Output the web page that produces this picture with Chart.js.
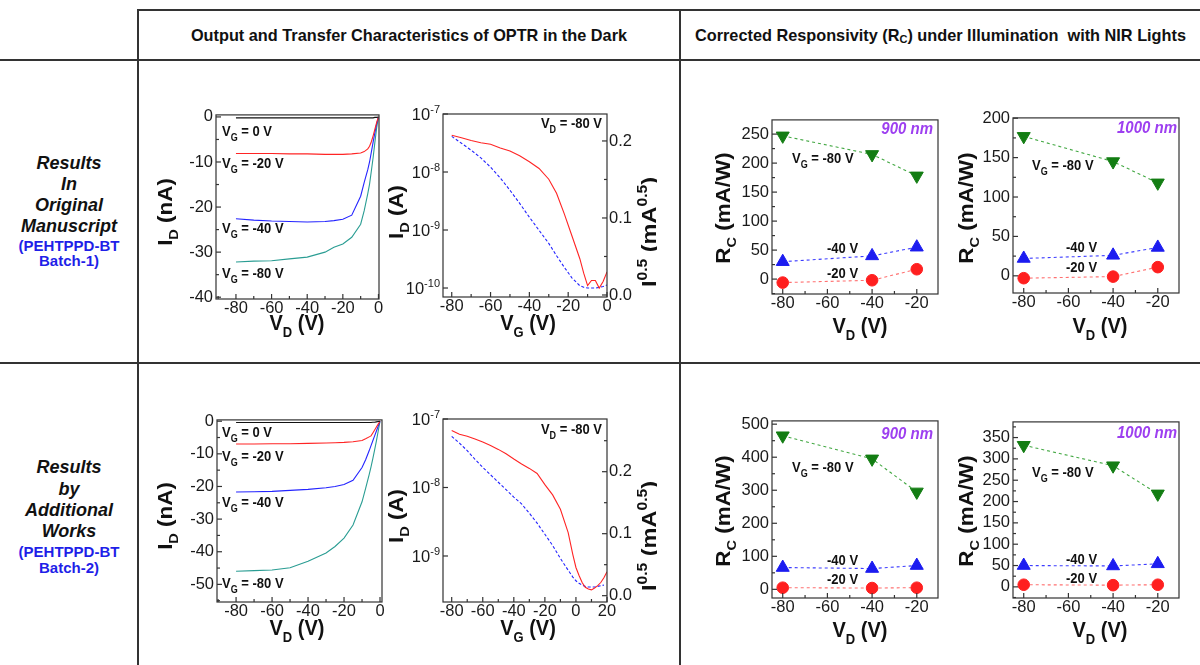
<!DOCTYPE html>
<html>
<head>
<meta charset="utf-8">
<title>OPTR characteristics</title>
<script src="https://cdn.jsdelivr.net/npm/chart.js@4.4.1/dist/chart.umd.min.js"></script>
<style>
  html, body { margin: 0; padding: 0; background: #fff; }
  body { position: relative; width: 1200px; height: 665px; overflow: hidden;
         font-family: "Liberation Sans", Arial, Helvetica, sans-serif; color: #111; }
  .rule { position: absolute; background: #333; }
  .head { position: absolute; top: 10px; height: 50px; display: flex; align-items: center;
          justify-content: center; font-weight: bold; font-size: 16.3px; white-space: nowrap; }
  .head .s { font-size: 11px; position: relative; top: 4px; }
  .side { position: absolute; left: 0; width: 138px; text-align: center; line-height: 20px;
          font-weight: bold; white-space: nowrap; }
  .side.k { font-style: italic; font-size: 18px; }
  .side.b { font-size: 15px; color: #1f1fe8; line-height: 16px; }
  canvas { position: absolute; }
</style>
</head>
<body>
<div class="rule" style="left:138px;top:9px;width:1062px;height:2px"></div>
<div class="rule" style="left:0;top:59px;width:1200px;height:2px"></div>
<div class="rule" style="left:0;top:362px;width:1200px;height:2px"></div>
<div class="rule" style="left:137px;top:9px;width:2px;height:656px"></div>
<div class="rule" style="left:679px;top:9px;width:2px;height:656px"></div>

<div class="head" style="left:139px;width:540px">Output and Transfer Characteristics of OPTR in the Dark</div>
<div class="head" style="left:681px;width:519px">Corrected Responsivity (R<span class="s">C</span>) under Illumination&nbsp; with NIR Lights</div>

<div class="side k" style="top:153px">Results</div>
<div class="side k" style="top:174px">In</div>
<div class="side k" style="top:195px">Original</div>
<div class="side k" style="top:216px">Manuscript</div>
<div class="side b" style="top:238px">(PEHTPPD-BT</div>
<div class="side b" style="top:253px">Batch-1)</div>

<div class="side k" style="top:457px">Results</div>
<div class="side k" style="top:479px">by</div>
<div class="side k" style="top:500px">Additional</div>
<div class="side k" style="top:521px">Works</div>
<div class="side b" style="top:544px">(PEHTPPD-BT</div>
<div class="side b" style="top:560px">Batch-2)</div>

<script>
// ---- data ----
// output characteristics in the dark (I_D in nA vs V_D)
const vdSweep = [-80, -70, -60, -50, -40, -30, -25, -20, -15, -10, -8, -6, -5, -4, -3, -2, -1, 0];
const out1Vg0  = [-0.2, -0.2, -0.2, -0.2, -0.2, -0.2, -0.2, -0.2, -0.2, -0.2, -0.2, -0.2, -0.2, -0.2, -0.2, -0.1, -0.1, 0];
const out1Vg20 = [-8.1, -8.1, -8.1, -8.2, -8.2, -8.3, -8.3, -8.3, -8.2, -8.0, -7.7, -7.1, -6.5, -5.5, -4.2, -2.7, -1.2, 0];
const out1Vg40 = [-22.6, -22.9, -23.1, -23.2, -23.3, -23.2, -23.0, -22.7, -21.8, -17.6, -14.5, -11.7, -10.0, -7.8, -5.6, -3.5, -1.5, 0];
const out1Vg80 = [-32.2, -32.0, -31.9, -31.5, -31.1, -30.0, -28.9, -28.2, -26.7, -23.8, -20.8, -17.0, -14.9, -12.0, -9.0, -5.6, -2.4, 0];
const out2Vg0  = [-0.4, -0.4, -0.4, -0.4, -0.4, -0.4, -0.4, -0.4, -0.4, -0.4, -0.4, -0.4, -0.4, -0.3, -0.3, -0.2, -0.1, 0];
const out2Vg20 = [-7.0, -7.0, -6.9, -6.9, -6.8, -6.7, -6.6, -6.5, -6.3, -5.9, -5.4, -4.8, -4.5, -3.6, -2.7, -1.8, -0.9, 0];
const out2Vg40 = [-21.7, -21.6, -21.5, -21.2, -20.9, -20.4, -20.0, -19.4, -18.1, -14.2, -11.8, -9.0, -7.5, -6.0, -4.5, -3.0, -1.5, 0];
const out2Vg80 = [-46.0, -45.8, -45.6, -44.9, -42.9, -40.4, -38.4, -35.8, -31.8, -24.7, -20.6, -16.3, -14.0, -11.5, -8.8, -6.0, -3.0, 0];

// transfer characteristics at V_D = -80 V (I_D in A, sqrt in mA^0.5)
const vgSweep1 = [-80, -75, -70, -65, -60, -55, -50, -45, -40, -35, -30, -26, -22, -18, -14, -12, -10, -8, -6, -4, -2, 0];
const tr1Id   = [4.3e-8, 3.9e-8, 3.5e-8, 3.2e-8, 3.0e-8, 2.6e-8, 2.3e-8, 1.9e-8, 1.5e-8, 1.15e-8, 7.5e-9, 4.3e-9, 1.9e-9, 7.8e-10, 3.2e-10, 1.8e-10, 1.1e-10, 1.35e-10, 1.35e-10, 1.0e-10, 1.3e-10, 1.9e-10];
const tr1Sqrt = [0.206, 0.197, 0.188, 0.178, 0.166, 0.152, 0.136, 0.119, 0.101, 0.084, 0.067, 0.051, 0.036, 0.022, 0.012, 0.010, 0.009, 0.009, 0.009, 0.010, 0.011, 0.013];
const vgSweep2 = [-80, -75, -70, -65, -60, -55, -50, -45, -40, -35, -30, -25, -20, -15, -10, -5, -2, 0, 2, 4, 6, 8, 10, 12, 14, 16, 18, 20];
const tr2Id   = [6.8e-8, 6.0e-8, 5.6e-8, 5.1e-8, 4.6e-8, 4.1e-8, 3.6e-8, 3.1e-8, 2.6e-8, 2.2e-8, 1.9e-8, 1.6e-8, 1.1e-8, 7.8e-9, 4.8e-9, 2.2e-9, 1.05e-9, 6.8e-10, 5.2e-10, 4.1e-10, 3.5e-10, 3.3e-10, 3.2e-10, 3.4e-10, 3.7e-10, 4.1e-10, 4.8e-10, 5.9e-10];
const tr2Sqrt = [0.257, 0.246, 0.234, 0.220, 0.207, 0.195, 0.183, 0.171, 0.159, 0.148, 0.133, 0.117, 0.099, 0.081, 0.060, 0.041, 0.030, 0.024, 0.020, 0.017, 0.015, 0.014, 0.014, 0.014, 0.015, 0.016, 0.017, null];

// corrected responsivity (mA/W)
const vdBias = [-80, -40, -20];
const r900aVg80 = [247, 215, 178];
const r900aVg40 = [30, 40, 55];
const r900aVg20 = [-6, -2, 17];
const r1000aVg80 = [177, 145, 118];
const r1000aVg40 = [22, 26, 36];
const r1000aVg20 = [-3, -1, 11];
const r900bVg80 = [465, 395, 295];
const r900bVg40 = [66, 63, 72];
const r900bVg20 = [5, 4, 5];
const r1000bVg80 = [332, 284, 218];
const r1000bVg40 = [50, 49, 54];
const r1000bVg20 = [5, 4, 5];

// tick values
const vdTicks = [-80, -60, -40, -20, 0];
const out1Ticks = [-40, -30, -20, -10, 0];
const out2Ticks = [-50, -40, -30, -20, -10, 0];
const vgTicks1 = [-80, -60, -40, -20, 0];
const vgTicks2 = [-80, -60, -40, -20, 0, 20];
const logTicks1 = [1e-10, 1e-9, 1e-8, 1e-7];
const logTicks2 = [1e-9, 1e-8, 1e-7];
const sqrtTicks = [0, 0.1, 0.2];
const biasTicks = [-80, -60, -40, -20];
const r900aTicks = [0, 50, 100, 150, 200, 250];
const r1000aTicks = [0, 50, 100, 150, 200];
const r900bTicks = [0, 100, 200, 300, 400, 500];
const r1000bTicks = [0, 50, 100, 150, 200, 250, 300, 350];

// ---- drawing helpers ----
const FONT = '"Liberation Sans", Arial, Helvetica, sans-serif';
const STRETCH = 1.12;   // the source figure is a little taller than wide
Chart.defaults.font.family = FONT;
Chart.defaults.font.size = 16.5;
Chart.defaults.color = '#1a1a1a';
Chart.defaults.animation = false;
Chart.defaults.plugins.legend.display = false;
Chart.defaults.plugins.tooltip.enabled = false;

const PAD_L = 62, PAD_T = 12, PAD_B = 56, PAD_R = 12, PAD_R2 = 50;

const pts = (xs, ys) => xs.map((x, i) => ({ x, y: ys[i] }));
const fixTicks = vals => s => { s.ticks = vals.map(v => ({ value: v })); };
const sub = (a, b, c) => [[a], [b, 'sub'], [c]];

function drawRich(ctx, parts, x, y, o) {
  const size = o.size, small = Math.round(size * 0.66);
  const fontFor = k => `${o.italic ? 'italic ' : ''}bold ${k ? small : size}px ${FONT}`;
  const widths = parts.map(p => { ctx.font = fontFor(p[1]); return ctx.measureText(p[0]).width; });
  const total = widths.reduce((a, b) => a + b, 0);
  ctx.save();
  ctx.translate(x, y);
  ctx.scale(1, STRETCH);
  if (o.rotate) ctx.rotate(-Math.PI / 2);
  let cx = o.align === 'left' ? 0 : o.align === 'right' ? -total : -total / 2;
  const base = size * 0.36;
  ctx.fillStyle = o.color || '#111';
  ctx.textAlign = 'left';
  ctx.textBaseline = 'alphabetic';
  parts.forEach((p, i) => {
    ctx.font = fontFor(p[1]);
    const dy = p[1] === 'sub' ? size * 0.3 : p[1] === 'sup' ? -size * 0.42 : 0;
    ctx.fillText(p[0], cx, base + dy);
    cx += widths[i];
  });
  ctx.restore();
}

function drawLogLabels(ctx, s, a) {
  ctx.fillStyle = '#1a1a1a';
  ctx.textAlign = 'left';
  ctx.textBaseline = 'alphabetic';
  s.ticks.forEach(t => {
    const p = s.getPixelForValue(t.value);
    const e = String(Math.round(Math.log10(t.value)));
    ctx.font = `11px ${FONT}`;
    const we = ctx.measureText(e).width;
    ctx.font = `16.5px ${FONT}`;
    const wb = ctx.measureText('10').width;
    const xr = a.left - 3;
    ctx.fillText('10', xr - we - wb, p + 6);
    ctx.font = `11px ${FONT}`;
    ctx.fillText(e, xr - we, p - 1);
  });
}

// frame, inward ticks, log labels and the rich texts of one panel
function decor(offX, offY, texts) {
  return {
    id: 'decor',
    afterDatasetsDraw(chart) {
      const { ctx, chartArea: a } = chart;
      ctx.save();
      ctx.strokeStyle = '#333';
      ctx.lineWidth = 1.2;
      ctx.strokeRect(a.left, a.top, a.right - a.left, a.bottom - a.top);
      ['x', 'y', 'y1'].forEach(id => {
        const s = chart.scales[id];
        if (!s) return;
        const major = s.ticks.map(t => t.value).sort((p, q) => p - q);
        const minor = [];
        if (s.type === 'linear' && major.length > 1) {
          const step = major[1] - major[0];
          for (let v = major[0] - step / 2; v <= s.max; v += step) if (v >= s.min) minor.push(v);
        }
        const mark = (v, len) => {
          const p = s.getPixelForValue(v);
          ctx.beginPath();
          if (id === 'x') {
            if (p < a.left - 0.5 || p > a.right + 0.5) return;
            ctx.moveTo(p, a.bottom); ctx.lineTo(p, a.bottom - len);
          } else {
            if (p < a.top - 0.5 || p > a.bottom + 0.5) return;
            const x0 = id === 'y1' ? a.right : a.left;
            ctx.moveTo(x0, p); ctx.lineTo(id === 'y1' ? x0 - len : x0 + len, p);
          }
          ctx.stroke();
        };
        major.forEach(v => mark(v, 5));
        minor.forEach(v => mark(v, 3));
        if (s.type === 'logarithmic') drawLogLabels(ctx, s, a);
      });
      ctx.restore();
    },
    afterDraw(chart) {
      texts.forEach(t => drawRich(chart.ctx, t.parts, t.x - offX, t.y - offY, t));
    },
  };
}

function linAxis(pos, min, max, ticks, fmt = v => String(v)) {
  return {
    type: 'linear', position: pos, min, max,
    afterBuildTicks: fixTicks(ticks),
    grid: { display: false, drawTicks: false },
    border: { display: false },
    ticks: { autoSkip: false, maxRotation: 0, padding: pos === 'bottom' ? 0 : pos === 'right' ? 2 : 3, callback: fmt },
  };
}

function logAxis(min, max, ticks) {
  return {
    type: 'logarithmic', position: 'left', min, max,
    afterBuildTicks: fixTicks(ticks),
    grid: { display: false, drawTicks: false },
    border: { display: false },
    ticks: { display: false },
  };
}

const curve = (xs, ys, color, axis = 'y', dash = []) => ({
  data: pts(xs, ys), yAxisID: axis, borderColor: color, borderWidth: 1.1,
  borderDash: dash, pointRadius: 0, fill: false, tension: 0,
});

const marks = (ys, line, fill, style, rot, r) => ({
  data: pts(vdBias, ys), borderColor: line, borderWidth: 1.1, borderDash: [3, 3],
  pointStyle: style, pointRotation: rot, pointRadius: r, pointBackgroundColor: fill,
  pointBorderColor: fill, pointBorderWidth: 1, clip: false, tension: 0,
});

function panel(box, datasets, scales, texts) {
  const right = !!scales.y1;
  const cv = document.createElement('canvas');
  const left = box.l - PAD_L, top = box.t - PAD_T;
  const w = box.r - box.l + PAD_L + (right ? PAD_R2 : PAD_R);
  const h = box.b - box.t + PAD_T + PAD_B;
  cv.width = w; cv.height = h;
  cv.style.left = left + 'px'; cv.style.top = top + 'px';
  cv.style.width = w + 'px'; cv.style.height = h + 'px';
  document.body.appendChild(cv);
  scales.x.afterFit = s => { s.height = PAD_B; };
  scales.y.afterFit = s => { s.width = PAD_L; };
  if (right) scales.y1.afterFit = s => { s.width = PAD_R2; };
  return new Chart(cv, {
    type: 'line',
    data: { datasets },
    options: {
      responsive: false,
      devicePixelRatio: 1,
      layout: { padding: { left: 0, top: PAD_T, right: right ? 0 : PAD_R, bottom: 0 } },
      scales,
    },
    plugins: [decor(left, top, texts)],
  });
}

const BLACK = '#111', RED = '#ff2424', BLUE = '#2424ff', TEAL = '#2a9d93';
const PURPLE = '#9d3ff0';
const note = (parts, x, y, align = 'left') => ({ parts, x, y, align, size: 13 });
const vgNote = (v, x, y) => note(sub('V', 'G', ` = ${v} V`), x, y);
const sqrtTitle = [['I'], ['0.5', 'sup'], [' (mA'], ['0.5', 'sup'], [')']];

// ---- output characteristics ----
panel({ l: 216, t: 114, r: 379, b: 299 },
  [curve(vdSweep, out1Vg0, BLACK), curve(vdSweep, out1Vg20, RED), curve(vdSweep, out1Vg40, BLUE), curve(vdSweep, out1Vg80, TEAL)],
  { x: linAxis('bottom', -91.2, 0.3, vdTicks), y: linAxis('left', -40.4, 0.45, out1Ticks) },
  [
    { parts: sub('I', 'D', ' (nA)'), x: 165, y: 212, size: 20, rotate: true },
    { parts: sub('V', 'D', ' (V)'), x: 297, y: 322, size: 20 },
    vgNote('0', 222, 131), vgNote('-20', 222, 163), vgNote('-40', 222, 228), vgNote('-80', 222, 273),
  ]);

panel({ l: 217, t: 419, r: 382, b: 602 },
  [curve(vdSweep, out2Vg0, BLACK), curve(vdSweep, out2Vg20, RED), curve(vdSweep, out2Vg40, BLUE), curve(vdSweep, out2Vg80, TEAL)],
  { x: linAxis('bottom', -90.6, 1.1, vdTicks), y: linAxis('left', -55.4, 0.4, out2Ticks) },
  [
    { parts: sub('I', 'D', ' (nA)'), x: 165, y: 516, size: 20, rotate: true },
    { parts: sub('V', 'D', ' (V)'), x: 297, y: 627, size: 20 },
    vgNote('0', 222, 432), vgNote('-20', 222, 456), vgNote('-40', 222, 502), vgNote('-80', 222, 583),
  ]);

// ---- transfer characteristics ----
panel({ l: 443, t: 114, r: 607, b: 297 },
  [curve(vgSweep1, tr1Id, RED), curve(vgSweep1, tr1Sqrt, BLUE, 'y1', [3, 2])],
  {
    x: linAxis('bottom', -84.5, 0, vgTicks1),
    y: logAxis(7.0e-11, 1e-7, logTicks1),
    y1: linAxis('right', -0.0026, 0.235, sqrtTicks, v => v.toFixed(1)),
  },
  [
    { parts: sub('I', 'D', ' (A)'), x: 396, y: 212, size: 20, rotate: true },
    { parts: sqrtTitle, x: 648, y: 232, size: 21, rotate: true },
    { parts: sub('V', 'G', ' (V)'), x: 528, y: 322, size: 20 },
    note(sub('V', 'D', ' = -80 V'), 602, 123, 'right'),
  ]);

panel({ l: 443, t: 419, r: 607, b: 602 },
  [curve(vgSweep2, tr2Id, RED), curve(vgSweep2, tr2Sqrt, BLUE, 'y1', [3, 2])],
  {
    x: linAxis('bottom', -85.6, 20, vgTicks2),
    y: logAxis(2.13e-10, 1e-7, logTicks2),
    y1: linAxis('right', -0.0102, 0.285, sqrtTicks, v => v.toFixed(1)),
  },
  [
    { parts: sub('I', 'D', ' (A)'), x: 396, y: 516, size: 20, rotate: true },
    { parts: sqrtTitle, x: 648, y: 536, size: 21, rotate: true },
    { parts: sub('V', 'G', ' (V)'), x: 528, y: 627, size: 20 },
    note(sub('V', 'D', ' = -80 V'), 602, 429, 'right'),
  ]);

// ---- corrected responsivity ----
function respPanel(box, yMin, yMax, ticks, v80, v40, v20, t) {
  return panel(box,
    [
      marks(v20, '#ff7070', '#ff1f1f', 'circle', 0, 5.8),
      marks(v40, '#3d3dff', '#1c1cf0', 'triangle', 0, 7.5),
      marks(v80, '#43a843', '#137d13', 'triangle', 180, 7.5),
    ],
    { x: linAxis('bottom', -84.8, -10.5, biasTicks), y: linAxis('left', yMin, yMax, ticks) },
    [
      { parts: sub('R', 'C', ' (mA/W)'), x: t.rx, y: t.ry, size: 20, rotate: true },
      { parts: sub('V', 'D', ' (V)'), x: t.vx, y: t.vy, size: 20 },
      { parts: [[t.nm]], x: t.nx, y: t.ny, align: 'right', size: 15, italic: true, color: PURPLE },
      vgNote('-80', t.ax, t.a80),
      note([['-40 V']], t.bx, t.a40),
      note([['-20 V']], t.bx, t.a20),
    ]);
}

respPanel({ l: 772, t: 119, r: 938, b: 294 }, -25.7, 274.5, r900aTicks, r900aVg80, r900aVg40, r900aVg20,
  { rx: 723, ry: 208, vx: 860, vy: 325, nm: '900 nm', nx: 933, ny: 128, ax: 792, bx: 827, a80: 158, a40: 248, a20: 273 });
respPanel({ l: 1013, t: 117, r: 1179, b: 293 }, -21.8, 200.4, r1000aTicks, r1000aVg80, r1000aVg40, r1000aVg20,
  { rx: 966, ry: 208, vx: 1100, vy: 325, nm: '1000 nm', nx: 1177, ny: 127, ax: 1032, bx: 1066, a80: 165, a40: 247, a20: 267 });
respPanel({ l: 772, t: 420, r: 938, b: 598 }, -26.2, 509.9, r900bTicks, r900bVg80, r900bVg40, r900bVg20,
  { rx: 723, ry: 511, vx: 860, vy: 629, nm: '900 nm', nx: 933, ny: 433, ax: 792, bx: 827, a80: 467, a40: 560, a20: 579 });
respPanel({ l: 1013, t: 421, r: 1179, b: 598 }, -26.1, 386.7, r1000bTicks, r1000bVg80, r1000bVg40, r1000bVg20,
  { rx: 966, ry: 511, vx: 1100, vy: 629, nm: '1000 nm', nx: 1177, ny: 432, ax: 1032, bx: 1066, a80: 472, a40: 559, a20: 578 });
</script>
</body>
</html>
